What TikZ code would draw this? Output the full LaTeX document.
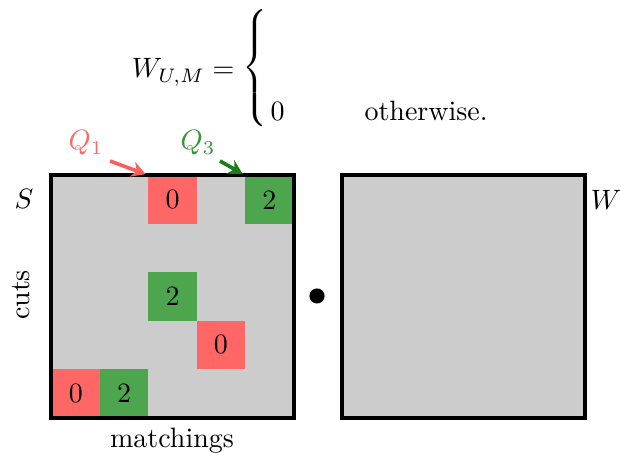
\documentclass[tikz,border=0pt]{standalone}
\usepackage{amsmath}
\usetikzlibrary{arrows.meta}
\definecolor{cellred}{RGB}{255,102,102}
\definecolor{cellgreen}{RGB}{77,166,77}
\definecolor{qred}{RGB}{255,102,102}
\definecolor{qgreen}{RGB}{51,150,51}
\definecolor{arrred}{RGB}{250,95,95}
\definecolor{arrgreen}{RGB}{25,125,25}
\definecolor{matgray}{RGB}{204,204,204}
\begin{document}
\begin{tikzpicture}[x=0.357pt,y=-0.357pt,
  cellbox/.style={anchor=north west, inner sep=0pt, minimum size=17.28pt},
  redcell/.style={cellbox, fill=cellred},
  greencell/.style={cellbox, fill=cellgreen},
  matfill/.style={anchor=north west, inner sep=0pt, minimum size=86.4pt, fill=matgray},
  matborder/.style={line width=1.6pt},
  qarrow/.style={line width=1.3pt, -{Stealth[length=5pt,width=5.5pt]}, shorten >=0.8pt}
]
\useasboundingbox (0,0) rectangle (621,453);

% formula
\node[anchor=base east, inner sep=0pt] (lhs) at (235,78) {$W_{U,M} =$};
\node[inner sep=0pt] (brace) at (257,68) {$\left\{\vcenter{\hbox{\rule{0pt}{42pt}}}\right.$};
\node[anchor=base west, inner sep=0pt] (zero) at (270,121) {$0$};
\node[anchor=base west, inner sep=0pt] (other) at (364,121) {otherwise.};

% left matrix S
\node[matfill] (Smat) at (51,175) {};
\node[redcell] (c02) at (147.8,175) {0};
\node[greencell] (c04) at (244.6,175) {2};
\node[greencell] (c22) at (147.8,271.8) {2};
\node[redcell] (c33) at (196.2,320.2) {0};
\node[redcell] (c40) at (51,368.6) {0};
\node[greencell] (c41) at (99.4,368.6) {2};
\draw[matborder] (Smat.north west) rectangle (Smat.south east);

% right matrix W
\node[matfill] (Wmat) at (342,175) {};
\draw[matborder] (Wmat.north west) rectangle (Wmat.south east);

% product dot
\node[circle, fill=black, inner sep=0pt, minimum size=5.4pt] (dot) at (317,296) {};

% labels
\node (Slab) at (24,199) {$S$};
\node (Wlab) at (606,200) {$W$};
\node[rotate=90] (cuts) at (21,295) {cuts};
\node[anchor=base] (match) at (172,448) {matchings};

% Q labels and arrows
\node[text=qred] (q1) at (86,143) {$Q_1$};
\node[text=qgreen] (q3) at (198,143) {$Q_3$};
\coordinate (q1s) at (110,161);
\coordinate (q3s) at (220,161);
\draw[qarrow, arrred] (q1s) -- (c02.north west);
\draw[qarrow, arrgreen] (q3s) -- (c04.north west);
\end{tikzpicture}
\end{document}
